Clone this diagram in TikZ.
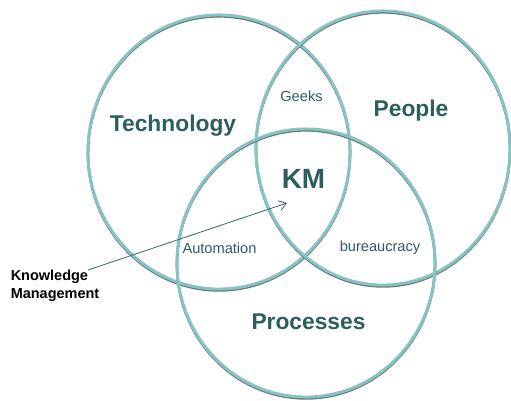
\documentclass[tikz,border=0pt]{standalone}
\usepackage{fontspec}
\setmainfont{Liberation Sans}
\usepackage{tikz}
\usetikzlibrary{positioning, calc, arrows.meta}
\definecolor{ringteal}{RGB}{132,196,196}
\definecolor{ringshade}{RGB}{115,115,115}
\definecolor{kmteal}{RGB}{44,94,94}
\definecolor{arrowteal}{RGB}{58,108,108}
\newcommand{\kmring}[4] {
    \draw[ringshade, line width=1.8pt] ($(#1,#2)+(0,1.4)$) ellipse [x radius=#3, y radius=#4];
    \draw[ringteal, line width=2.1pt] (#1,#2) ellipse [x radius=#3, y radius=#4];
}
\tikzset{
    bigword/.style = {text=kmteal, font=\fontsize{16.2}{19}\selectfont\bfseries, inner sep=0pt},
    smallword/.style = {text=kmteal, font=\fontsize{10.4}{12}\selectfont, inner sep=0pt}
}

\begin{document}
\begin{tikzpicture}[x=0.025cm, y=-0.025cm]
                \useasboundingbox (0,0) rectangle (511,400);
                % the three rings
                \kmring{219}{152}{3.275cm}{3.425cm}
                \kmring{383}{148}{3.175cm}{3.425cm}
                \kmring{306}{263}{3.225cm}{3.35cm}
                % labels
                \node[bigword] (tech) at (173,126) {Technology};
                \node[bigword] (people) at (411,111) {People};
                \node[bigword] (proc) at (308.5,322) {Processes};
                \node[bigword, font=\fontsize{19.8}{23}\selectfont\bfseries] (km) at (303.5,179) {KM};
                \node[smallword] (geeks) at (301.5,96) {Geeks};
                \node[smallword] (auto) at (219.5,248) {Automation};
                \node[smallword] (bureau) at (380,248) {bureaucracy};
                \node[anchor=west, align=left, inner sep=0pt, font=\fontsize{10.3}{13}\selectfont\bfseries] (kmlabel) at (10.5,286) {Knowledge\\Management};
                % pointer to the centre
                \coordinate (kmtip) at (287,203);
                \draw[-{Straight Barb[length=5pt, width=7pt]}, arrowteal, line width=0.6pt] (88,270) -- (kmtip);
            \end{tikzpicture}
\end{document}
